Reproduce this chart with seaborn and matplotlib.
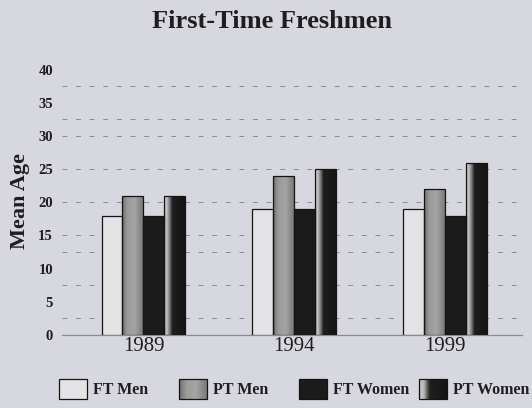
import numpy as np
import pandas as pd
import matplotlib
matplotlib.use("Agg")
import matplotlib.pyplot as plt
import seaborn as sns
from matplotlib.legend_handler import HandlerBase
from matplotlib.patches import Rectangle
from matplotlib.colors import LinearSegmentedColormap

# Mean age of first-time freshmen by enrollment status and sex
years = ["1989", "1994", "1999"]
groups = ["FT Men", "PT Men", "FT Women", "PT Women"]
ft_men = [18, 19, 19]
pt_men = [21, 24, 22]
ft_women = [18, 19, 18]
pt_women = [21, 25, 26]
y_ticks = [0, 5, 10, 15, 20, 25, 30, 35, 40]
grid_levels = [2.5, 7.5, 12.5, 15, 20, 25, 30, 32.5, 37.5]

series = {"FT Men": ft_men, "PT Men": pt_men, "FT Women": ft_women, "PT Women": pt_women}
df = pd.DataFrame(
    [(yr, g, v) for g in groups for yr, v in zip(years, series[g])],
    columns=["Year", "Group", "Mean Age"],
)

bg = "#d7d7df"
ink = "#1e1e1e"
colors = ["#e3e3e6", "#8e8e8e", "#1b1b1b", "#1b1b1b"]

# shaded fills for the part-time bars
gradients = {
    "PT Men": LinearSegmentedColormap.from_list(
        "ptm", [(0, "#6e6e6e"), (0.25, "#9a9a9a"), (0.6, "#a4a4a4"), (1, "#7a7a7a")]),
    "PT Women": LinearSegmentedColormap.from_list(
        "ptw", [(0, "#b8b8b8"), (0.12, "#c4c4c4"), (0.28, "#707070"),
                (0.4, "#1e1e1e"), (1, "#151515")]),
}

sns.set_style("white")
plt.rcParams["font.family"] = ["Liberation Serif", "DejaVu Serif"]

fig = plt.figure(figsize=(5.32, 4.08), dpi=100, facecolor=bg)
ax = fig.add_axes([62 / 532, 1 - 335 / 408, 460 / 532, 272 / 408])
ax.set_facecolor(bg)

sns.barplot(
    data=df, x="Year", y="Mean Age", hue="Group", order=years, hue_order=groups,
    palette=colors, width=0.556, gap=0, saturation=1, errorbar=None,
    edgecolor="#141414", linewidth=0.9, zorder=3, ax=ax,
)

# paint gradients inside the part-time bars, clipped to each bar
for g, container in zip(groups, ax.containers):
    if g not in gradients:
        continue
    strip = np.linspace(0, 1, 64).reshape(1, -1)
    for bar in container:
        x0, w, h = bar.get_x(), bar.get_width(), bar.get_height()
        im = ax.imshow(strip, cmap=gradients[g], extent=[x0, x0 + w, 0, h],
                       aspect="auto", zorder=2.9, interpolation="bilinear")
        im.set_clip_path(bar)
        bar.set_facecolor("none")
ax.set_xlim(-0.54, 2.51)
ax.set_ylim(0, 41)
ax.set_aspect("auto")

# dashed guide lines
ax.yaxis.remove_overlapping_locs = False
ax.set_yticks(y_ticks)
ax.set_yticks(grid_levels, minor=True)
ax.yaxis.grid(False, which="major")
ax.yaxis.grid(True, which="minor", color="#8a8a92", linestyle=(0, (5, 9)), linewidth=0.7)
ax.set_axisbelow(True)

ax.tick_params(axis="y", which="both", length=0, pad=6.5, labelsize=10.5, labelcolor=ink)
ax.tick_params(axis="y", which="minor", labelleft=False)
ax.tick_params(axis="x", length=0, pad=1.5, labelsize=15, labelcolor=ink)
for t in ax.get_yticklabels():
    t.set_fontweight("bold")

for side in ["top", "right", "left"]:
    ax.spines[side].set_visible(False)
ax.spines["bottom"].set_color("#8a8a92")
ax.spines["bottom"].set_linewidth(0.9)

ax.set_xlabel("")
ax.set_ylabel("Mean Age", fontsize=16, fontweight="bold", color=ink)
ax.yaxis.set_label_coords(-0.07, 0.493)

fig.text(272 / 532, 1 - 21 / 408, "First-Time Freshmen", ha="center", va="center",
         fontsize=19, fontweight="bold", color=ink)

# legend handles, with gradient swatches for part-time groups
handles, labels = ax.get_legend_handles_labels()
if ax.get_legend() is not None:
    ax.get_legend().remove()


class GradientHandler(HandlerBase):
    def __init__(self, cmap, **kw):
        super().__init__(**kw)
        self.cmap = cmap

    def create_artists(self, legend, orig_handle, xdescent, ydescent,
                       width, height, fontsize, trans):
        n = 30
        arts = []
        for i in range(n):
            arts.append(Rectangle((-xdescent + i * width / n, -ydescent), width / n + 0.3,
                                  height, facecolor=self.cmap((i + 0.5) / n),
                                  edgecolor="none", transform=trans))
        arts.append(Rectangle((-xdescent, -ydescent), width, height, facecolor="none",
                              edgecolor="#141414", linewidth=0.9, transform=trans))
        return arts


legend_x = [59, 179, 299, 419]
for h, lab, xp in zip(handles, labels, legend_x):
    hmap = {h: GradientHandler(gradients[lab])} if lab in gradients else None
    leg = fig.legend([h], [lab], loc="center left", bbox_to_anchor=(xp / 532, 1 - 389 / 408),
                     frameon=False, borderpad=0, borderaxespad=0, handlelength=1.75,
                     handleheight=1.6, handletextpad=0.4, handler_map=hmap,
                     prop={"weight": "bold", "size": 11.5})
    for t in leg.get_texts():
        t.set_color(ink)

fig.savefig("out.png", dpi=100, facecolor=bg)
